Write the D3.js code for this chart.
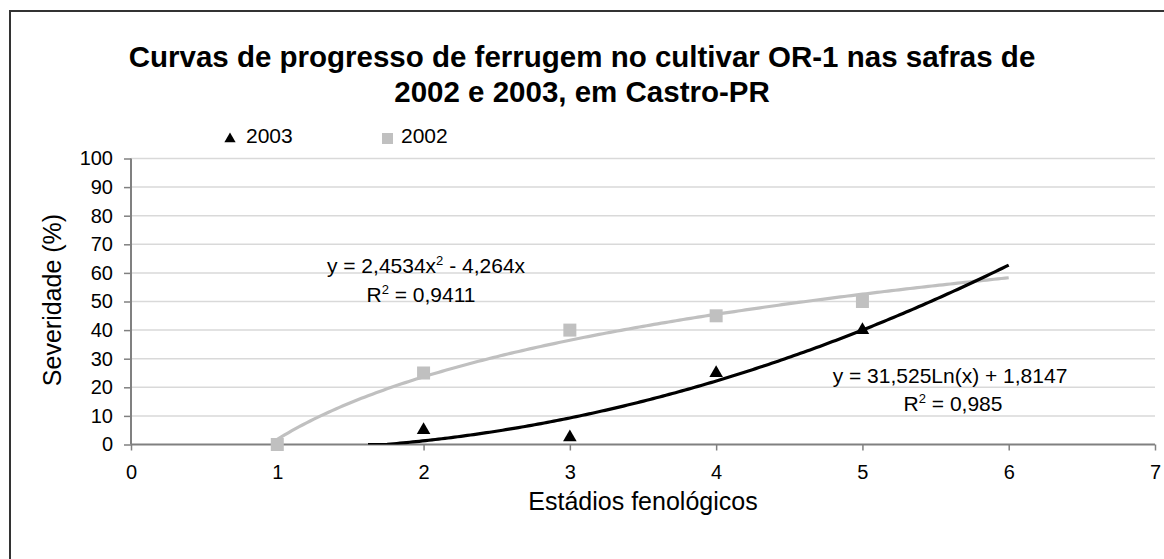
<!DOCTYPE html>
<html>
<head>
<meta charset="utf-8">
<script src="https://cdn.jsdelivr.net/npm/d3@7"></script>
<style>
  html, body { margin: 0; padding: 0; background: #fff; }
  svg { display: block; }
  text { font-family: "Liberation Sans", Arial, sans-serif; }
</style>
</head>
<body>
<svg id="chart" width="1164" height="559"></svg>
<script>
// Observed severity per phenological stage
const stages2003 = [2, 3, 4, 5];
const severity2003 = [5, 2.5, 25, 40];
const stages2002 = [1, 2, 3, 4, 5];
const severity2002 = [0, 25, 40, 45, 50];

// Fitted trendlines (coefficients as printed on the chart)
const quadCoef = { a: 2.4534, b: -4.264 };     // black curve
const quadRange = [1.62, 6];
const logCoef = { a: 31.525, b: 1.8147 };      // grey curve
const logRange = [1, 6];

const xTicks = [0, 1, 2, 3, 4, 5, 6, 7];
const yTicks = [0, 10, 20, 30, 40, 50, 60, 70, 80, 90, 100];

const titleLines = [
  "Curvas de progresso de ferrugem no cultivar OR-1 nas safras de",
  "2002 e 2003, em Castro-PR"
];

const svg = d3.select("#chart");
const W = 1164, H = 559;
const plot = { left: 131, right: 1155, top: 158.5, bottom: 444.5 };

const x = d3.scaleLinear().domain([0, 7]).range([plot.left, plot.right]);
const y = d3.scaleLinear().domain([0, 100]).range([plot.bottom, plot.top]);

// Outer frame
svg.append("rect")
  .attr("x", 10).attr("y", 11)
  .attr("width", W + 20).attr("height", H + 20)
  .attr("fill", "none").attr("stroke", "#333").attr("stroke-width", 2);

// Title
svg.append("g").selectAll("text").data(titleLines).join("text")
  .attr("x", 582).attr("y", (d, i) => 67 + i * 35)
  .attr("text-anchor", "middle")
  .attr("font-size", 29.5).attr("font-weight", "bold")
  .attr("fill", "#000")
  .text(d => d);

// Gridlines
svg.append("g").selectAll("line").data(yTicks.filter(d => d > 0)).join("line")
  .attr("x1", plot.left).attr("x2", plot.right)
  .attr("y1", d => y(d)).attr("y2", d => y(d))
  .attr("stroke", "#d9d9d9").attr("stroke-width", 1.5);

// Axes
const yAxis = d3.axisLeft(y).tickValues(yTicks).tickSize(7).tickPadding(11)
  .tickFormat(d3.format("d"));
const xAxis = d3.axisBottom(x).tickValues(xTicks).tickSize(6).tickPadding(14)
  .tickFormat(d3.format("d"));

const gy = svg.append("g").attr("transform", `translate(${plot.left},0)`).call(yAxis);
const gx = svg.append("g").attr("transform", `translate(0,${plot.bottom})`).call(xAxis);
[gx, gy].forEach(g => {
  g.select(".domain").attr("stroke", "#808080").attr("stroke-width", 2);
  g.selectAll(".tick line").attr("stroke", "#808080").attr("stroke-width", 1.5);
  g.selectAll(".tick text").attr("font-size", 20).attr("fill", "#000")
    .attr("font-family", "'Liberation Sans', Arial, sans-serif");
});
gy.select(".domain").attr("d", `M0,${plot.bottom}V${plot.top}`);
gx.select(".domain").attr("d", `M${plot.left},0H${plot.right}`);

// Axis titles
svg.append("text")
  .attr("x", 643).attr("y", 510)
  .attr("text-anchor", "middle").attr("font-size", 25)
  .text("Estádios fenológicos");
svg.append("text")
  .attr("transform", "translate(61,300) rotate(-90)")
  .attr("text-anchor", "middle").attr("font-size", 25)
  .text("Severidade (%)");

// Clip for trendlines
svg.append("clipPath").attr("id", "plotClip")
  .append("rect")
  .attr("x", plot.left).attr("y", plot.top - 5)
  .attr("width", plot.right - plot.left).attr("height", plot.bottom - plot.top + 5);

const sample = ([a, b]) => d3.range(0, 201).map(i => a + (b - a) * i / 200);
const line = d3.line().x(d => x(d[0])).y(d => y(d[1]));

const logPts = sample(logRange).map(s => [s, logCoef.a * Math.log(s) + logCoef.b]);
const quadPts = sample(quadRange).map(s => [s, Math.max(0, quadCoef.a * s * s + quadCoef.b * s)]);

const trends = svg.append("g");
trends.append("path").datum(logPts).attr("d", line)
  .attr("fill", "none").attr("stroke", "#c0c0c0").attr("stroke-width", 3.2)
  .attr("stroke-linejoin", "round");
trends.append("path").datum(quadPts).attr("d", line)
  .attr("fill", "none").attr("stroke", "#000").attr("stroke-width", 3.2)
  .attr("stroke-linejoin", "round").attr("clip-path", "url(#plotClip)");

// Markers
const sq = 13;
svg.append("g").selectAll("rect").data(stages2002.map((s, i) => [s, severity2002[i]])).join("rect")
  .attr("x", d => x(d[0]) - sq / 2).attr("y", d => y(d[1]) - sq / 2)
  .attr("width", sq).attr("height", sq).attr("fill", "#c0c0c0");

const tri = d3.symbol().type(d3.symbolTriangle).size(80);
svg.append("g").selectAll("path").data(stages2003.map((s, i) => [s, severity2003[i]])).join("path")
  .attr("transform", d => `translate(${x(d[0])},${y(d[1])})`)
  .attr("d", tri).attr("fill", "#000");

// Trendline equations
const eq = svg.append("g").attr("font-size", 21).attr("fill", "#000");
const sup = (t, s) => { t.append("tspan").attr("font-size", 13).attr("dy", -8).text(s); };

const e1 = eq.append("text").attr("x", 426).attr("y", 273).attr("text-anchor", "middle");
e1.append("tspan").text("y = 2,4534x");
sup(e1, "2");
e1.append("tspan").attr("dy", 8).text(" - 4,264x");
const r1 = eq.append("text").attr("x", 421).attr("y", 302).attr("text-anchor", "middle");
r1.append("tspan").text("R");
sup(r1, "2");
r1.append("tspan").attr("dy", 8).text(" = 0,9411");

eq.append("text").attr("x", 950).attr("y", 383).attr("text-anchor", "middle")
  .text("y = 31,525Ln(x) + 1,8147");
const r2 = eq.append("text").attr("x", 953).attr("y", 411).attr("text-anchor", "middle");
r2.append("tspan").text("R");
sup(r2, "2");
r2.append("tspan").attr("dy", 8).text(" = 0,985");

// Legend
const legend = svg.append("g").attr("font-size", 21);
legend.append("path").attr("d", d3.symbol().type(d3.symbolTriangle).size(55)())
  .attr("transform", "translate(230,139)").attr("fill", "#000");
legend.append("text").attr("x", 246).attr("y", 143).text("2003");
legend.append("rect").attr("x", 382).attr("y", 133).attr("width", 11).attr("height", 11).attr("fill", "#c0c0c0");
legend.append("text").attr("x", 401).attr("y", 143).text("2002");
</script>
</body>
</html>
